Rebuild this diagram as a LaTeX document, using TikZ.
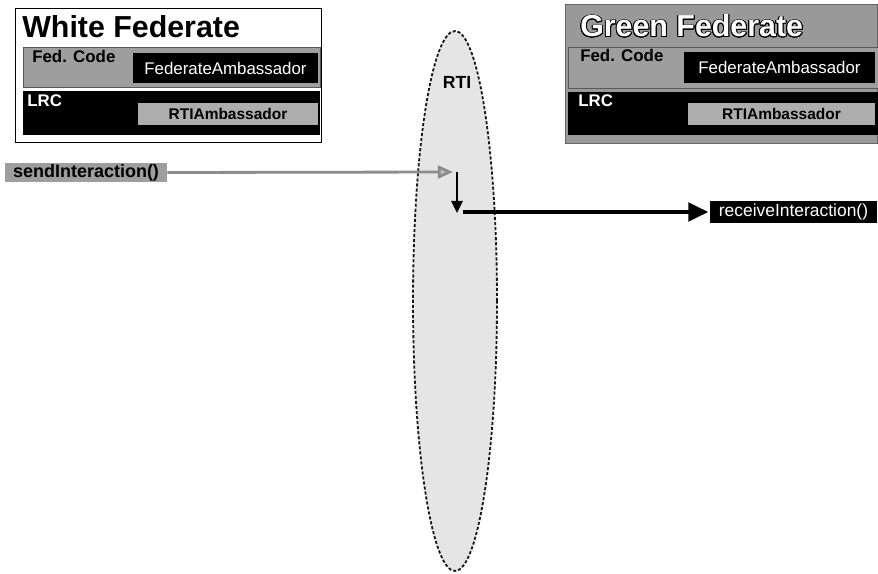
\documentclass[tikz,border=0pt]{standalone}
\usepackage{fontspec}
\setmainfont{Liberation Sans}
\usepackage{contour}
\contourlength{0.7pt}
\usetikzlibrary{arrows.meta,shapes.geometric}
\tikzset{
fedframe/.style={draw=black,line width=0.6pt,minimum width=#1,inner sep=0pt},
rowgray/.style={fill=black!38,draw=black!65,line width=0.5pt,inner sep=0pt},
rowblack/.style={fill=black,inner sep=0pt},
boxblack/.style={fill=black,text=white,inner sep=0pt,font=\fontsize{12}{14}\selectfont},
boxgray/.style={fill=black!32,text=black,inner sep=0pt,font=\fontsize{11}{13}\selectfont\bfseries},
fedtitle/.style={anchor=base west,inner sep=0pt,font=\fontsize{21.6}{24}\selectfont\bfseries},
rowlabel/.style={anchor=base west,inner sep=0pt,font=\fontsize{12}{14}\selectfont\bfseries},
methodgray/.style={fill=black!38,inner sep=0pt,minimum width=4.05cm,minimum height=0.475cm,font=\fontsize{12.8}{14}\selectfont\bfseries},
methodblack/.style={fill=black,text=white,inner sep=0pt,minimum width=4.175cm,minimum height=0.55cm,font=\fontsize{12.4}{14}\selectfont},
rtibus/.style={ellipse,draw=black!90,fill=black!10,dash pattern=on 2.2pt off 1.4pt,line width=1.3pt,minimum width=2.1cm,minimum height=13.5cm,inner sep=0pt},
sendarrow/.style={-{Triangle[length=0.38cm,width=0.32cm,fill=black!25]},draw=black!45,line width=2pt},
downarrow/.style={-{Triangle[length=0.3cm,width=0.28cm]},black,line width=1.5pt},
callarrow/.style={-{Triangle[length=0.5cm,width=0.46cm]},black,line width=2.8pt}
}
\begin{document}
\begin{tikzpicture}
\useasboundingbox (0,0) rectangle (21.95,-14.325);
% RTI
\node[rtibus] (rti) at (11.375,-7.525) {};
\node[font=\fontsize{12.5}{14}\selectfont\bfseries] (rtilabel) at (11.425,-2.05) {RTI};
% White Federate
\node[fedframe=7.65cm,minimum height=3.35cm,fill=white] (white) at (4.2,-1.875) {};
\node[fedtitle] (whitetitle) at (0.55,-0.95) {White Federate};
\node[rowgray,minimum width=7.425cm,minimum height=1.0cm] (whitecode) at (4.2875,-1.675) {};
\node[rowlabel] (whitecodelbl) at (0.8,-1.575) {Fed. Code};
\node[boxblack,minimum width=4.625cm,minimum height=0.75cm] (whitefa) at (5.6375,-1.7) {FederateAmbassador};
\node[rowblack,minimum width=7.425cm,minimum height=1.1cm] (whitelrc) at (4.2875,-2.825) {};
\node[rowlabel,text=white] (whitelrclbl) at (0.675,-2.675) {LRC};
\node[boxgray,minimum width=4.5cm,minimum height=0.55cm] (whitera) at (5.7,-2.85) {RTIAmbassador};
% Green Federate
\node[fedframe=7.8cm,minimum height=3.475cm,fill=black!40,draw=black!60] (green) at (18.025,-1.8375) {};
\node[fedtitle] (greentitle) at (14.5,-0.925) {\contour{black}{\textcolor{white}{Green Federate}}};
\node[rowgray,minimum width=7.75cm,minimum height=1.025cm] (greencode) at (18.075,-1.6875) {};
\node[rowlabel] (greencodelbl) at (14.5,-1.55) {Fed. Code};
\node[boxblack,minimum width=4.775cm,minimum height=0.775cm] (greenfa) at (19.4875,-1.6875) {FederateAmbassador};
\node[rowblack,minimum width=7.75cm,minimum height=1.075cm] (greenlrc) at (18.075,-2.8375) {};
\node[rowlabel,text=white] (greenlrclbl) at (14.45,-2.675) {LRC};
\node[boxgray,minimum width=4.675cm,minimum height=0.55cm] (greenra) at (19.5375,-2.85) {RTIAmbassador};
% interaction
\node[methodgray] (send) at (2.15,-4.3125) {sendInteraction()};
\node[methodblack] (recv) at (19.8375,-5.3) {receiveInteraction()};
\coordinate (rtiin) at (11.325,-4.3);
\coordinate (rtitop) at (11.425,-4.3);
\coordinate (rtibot) at (11.425,-5.325);
\coordinate (rtiout) at (11.575,-5.3);
\draw[sendarrow] (send.east) -- (rtiin);
\draw[downarrow] (rtitop) -- (rtibot);
\draw[callarrow] (rtiout) -- ([xshift=-1pt]recv.west);
\end{tikzpicture}
\end{document}
